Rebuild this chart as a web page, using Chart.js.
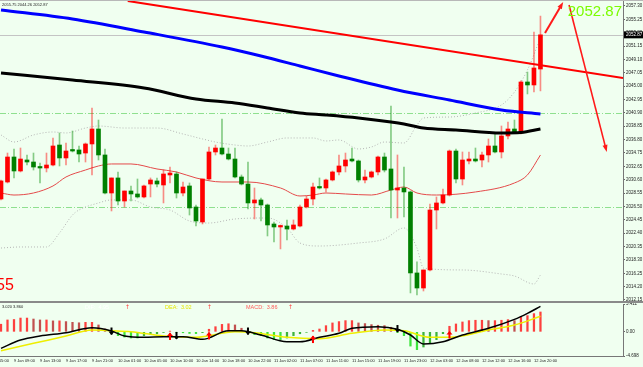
<!DOCTYPE html>
<html>
<head>
<meta charset="utf-8">
<title>XAUUSD H1</title>
<script src="https://cdn.jsdelivr.net/npm/chart.js@4.4.1/dist/chart.umd.min.js"></script>
<style>
  html, body { margin: 0; padding: 0; background: #f0fff0; overflow: hidden; }
  #wrap { position: relative; width: 643px; height: 367px; }
  canvas { position: absolute; left: 0; }
  #priceChart { top: 0; }
  #macdChart { top: 302px; }
  .rule { position: absolute; left: 0; width: 643px; }
</style>
</head>
<body>
<div id="wrap">
  <canvas id="priceChart" width="643" height="302"></canvas>
  <canvas id="macdChart" width="643" height="65"></canvas>
  <div class="rule" style="top:0;height:1px;background:#b8b8b8"></div>
  <div class="rule" style="top:301px;height:2px;background:#8a8a8a"></div>
</div>
<script>
var FONT = 'Liberation Sans, Arial, sans-serif';

// hourly bars, 9 Jan 07:00 .. 12 Jan 21:00
var barOpen = [2027.66,2030.27,2034.11,2031.96,2033.65,2033.34,2032.57,2032.42,2032.88,2035.95,
  2033.96,2035.19,2035.19,2034.72,2036.11,2038.41,2034.42,2028.58,2030.89,2027.35,
  2028.89,2028.43,2027.97,2029.96,2030.43,2029.81,2031.35,2031.50,2028.58,2029.66,
  2026.43,2024.13,2030.73,2034.88,2035.49,2034.57,2033.80,2031.04,2029.96,2027.05,
  2027.51,2026.74,2023.82,2023.36,2023.51,2023.05,2023.51,2026.43,2027.66,2029.50,
  2029.35,2030.58,2031.81,2032.73,2033.80,2033.50,2030.58,2031.04,2031.81,2034.11,
  2032.27,2029.04,2029.35,2028.74,2016.30,2013.99,2016.76,2025.97,2027.05,2028.27,
  2035.03,2030.73,2033.50,2033.80,2033.65,2034.42,2035.80,2034.88,2037.34,2038.41,
  2037.80,2045.63,2045.17,2047.62];
var barHigh = [2030.58,2034.72,2035.34,2035.49,2034.42,2034.72,2033.19,2034.72,2037.03,2037.80,
  2036.26,2038.10,2035.80,2036.26,2041.64,2039.79,2035.34,2030.89,2031.81,2028.89,
  2029.66,2030.73,2029.81,2030.89,2030.89,2032.11,2032.57,2031.81,2030.27,2030.12,
  2026.74,2030.73,2035.65,2035.95,2039.95,2035.49,2035.49,2031.35,2033.34,2029.35,
  2027.81,2026.89,2024.13,2023.67,2024.44,2024.44,2026.74,2028.12,2030.12,2030.89,
  2030.73,2031.96,2034.42,2034.72,2035.49,2033.65,2032.11,2031.96,2034.26,2034.72,
  2041.94,2034.42,2032.57,2028.90,2017.99,2016.76,2026.89,2027.97,2029.20,2035.19,
  2035.34,2034.88,2034.88,2035.49,2034.88,2036.88,2037.80,2038.87,2039.49,2039.79,
  2045.80,2047.16,2053.31,2055.75];
var barLow = [2027.51,2030.12,2030.89,2031.81,2032.88,2032.11,2030.12,2031.81,2032.73,2032.73,
  2032.88,2034.88,2033.34,2033.34,2031.35,2033.65,2028.43,2025.82,2026.74,2026.43,
  2027.35,2027.81,2027.81,2027.97,2029.50,2027.05,2030.12,2027.81,2028.12,2025.20,
  2023.51,2023.82,2030.58,2034.42,2034.42,2033.65,2030.89,2029.81,2026.12,2024.59,
  2024.28,2021.98,2021.06,2019.99,2021.37,2022.90,2023.36,2026.28,2026.74,2029.20,
  2028.74,2030.43,2031.35,2031.81,2033.34,2030.27,2030.12,2030.89,2031.35,2031.81,
  2024.74,2024.74,2024.90,2013.23,2012.92,2013.53,2016.61,2023.05,2026.89,2028.12,
  2030.12,2029.81,2033.04,2033.34,2032.57,2033.34,2034.72,2033.96,2036.88,2037.80,
  2037.65,2043.79,2044.09,2044.26];
var barClose = [2030.43,2034.11,2031.96,2033.80,2033.34,2032.57,2032.42,2032.88,2035.80,2033.96,
  2035.03,2035.03,2034.57,2036.11,2038.41,2034.42,2028.58,2030.89,2027.35,2028.89,
  2028.43,2027.97,2029.66,2030.58,2029.96,2031.50,2031.65,2028.58,2029.50,2026.28,
  2024.28,2030.73,2034.88,2035.49,2034.57,2033.80,2031.04,2029.96,2027.05,2027.51,
  2026.74,2023.67,2023.36,2023.51,2023.05,2023.67,2026.43,2027.66,2029.50,2029.35,
  2030.58,2031.81,2032.73,2033.65,2033.50,2030.58,2031.04,2031.81,2034.11,2032.11,
  2029.04,2029.35,2028.74,2016.30,2013.99,2016.76,2025.97,2027.05,2028.27,2035.03,
  2030.73,2033.65,2033.80,2033.50,2034.42,2035.80,2034.88,2037.34,2038.41,2037.95,
  2045.63,2045.17,2047.78,2052.87];

// time axis: bar index of each label
var xTickBars = [-2,2,6,10,14,18,22,26,30,34,38,42,46,50,54,58,62,66,70,74,78,82];
var xTickLabels = ['9 Jan 05:00','9 Jan 09:00','9 Jan 13:00','9 Jan 17:00','9 Jan 21:00',
  '10 Jan 01:00','10 Jan 05:00','10 Jan 10:00','10 Jan 14:00','10 Jan 18:00','10 Jan 22:00',
  '11 Jan 02:00','11 Jan 07:00','11 Jan 11:00','11 Jan 15:00','11 Jan 19:00','11 Jan 23:00',
  '12 Jan 03:00','12 Jan 08:00','12 Jan 12:00','12 Jan 16:00','12 Jan 20:00'];
var priceTicks = [2057.30,2055.25,2053.20,2051.15,2049.10,2047.05,2045.00,2042.95,2040.90,2038.85,
  2036.80,2034.75,2032.65,2030.60,2028.55,2026.50,2024.45,2022.40,2020.35,2018.30,2016.25,2014.20,2012.15];
var macdTicks = [5.411, 0, -4.698];

// moving averages (read at some bars)
var blueMaBars = [0,11,22,34,40,46,52,61,69,77,83];
var blueMaVals = [2056.69,2055.30,2053.31,2051.00,2049.62,2048.09,2046.55,2044.40,2042.86,2041.33,2040.71];
var blackMaBars = [0,11,22,30,36,41,46,50,55,60,62,65,70,77,80,83];
var blackMaVals = [2047.01,2045.93,2044.71,2043.02,2042.40,2041.64,2040.87,2040.56,2040.10,2039.49,2039.18,2038.56,2038.26,2037.80,2037.87,2038.41];

// bollinger bands
var bbUpBars = [0,2,5,8,10,13,15,19,24,28,31,33,36,38,41,44,48,50,52,55,57,59,62,64,65,69,73,77,79,81,83];
var bbUpVals = [2037.49,2036.41,2037.49,2037.95,2037.80,2038.56,2038.87,2038.56,2038.56,2037.64,2036.88,2036.41,2035.95,2035.80,2036.41,2037.03,2037.03,2036.57,2036.72,2035.34,2035.65,2036.41,2036.26,2039.02,2040.10,2040.25,2040.87,2042.10,2044.09,2047.47,2052.39];
var bbMidBars = [0,2,5,8,10,13,15,17,20,24,27,30,34,38,43,46,48,50,53,57,60,62,64,67,73,79,81,83];
var bbMidVals = [2028.58,2028.27,2028.58,2029.66,2031.04,2032.11,2032.73,2033.04,2033.04,2032.27,2031.81,2030.89,2030.27,2030.27,2029.35,2028.12,2028.27,2028.58,2028.43,2028.27,2029.04,2029.50,2028.58,2028.27,2028.74,2030.12,2031.35,2034.42];
var bbLowBars = [0,3,7,9,11,12,15,17,20,23,26,29,32,36,41,44,46,49,55,59,62,64,65,71,77,79,82,83];
var bbLowVals = [2020.13,2020.29,2020.29,2022.44,2025.20,2025.97,2027.05,2027.51,2027.51,2026.43,2025.97,2024.28,2023.97,2024.59,2024.74,2023.21,2020.90,2020.44,2020.90,2021.52,2023.21,2020.13,2017.06,2016.76,2016.14,2015.83,2014.61,2015.99];

// drawn objects: [bar, price]
var levelLines = [2040.90, 2026.50];
var lastPrice = 2052.87;
var trendLine = [[19.5, 2058.07], [95.7, 2046.24]];
var arrowUpLeg = [[83.7, 2053.15], [86.5, 2057.91]];
var arrowDownLeg = [[87.4, 2057.45], [93.2, 2034.88]];

// MACD sub window
var macdHist = [1.48,2.31,2.40,2.68,2.68,2.49,2.31,2.31,2.13,2.13,
  1.99,1.85,1.76,1.85,1.85,1.34,0.55,-0.15,-0.74,-1.02,
  -1.2,-1.2,-0.74,-0.51,-0.37,-0.12,0.14,-0.09,-0.18,-0.32,
  -0.35,-0.15,0.5,1.0,1.45,1.57,1.34,0.7,-0.1,-0.55,
  -0.74,-1.2,-1.52,-1.52,-1.2,-0.74,-0.37,-0.09,0.28,0.55,
  1.2,1.73,1.99,2.18,2.18,1.73,1.6,1.4,1.28,1.21,
  0.89,-0.15,-0.75,-2.77,-3.47,-2.95,-2.17,-1.52,-0.36,1.08,
  1.53,1.92,2.18,2.25,2.25,2.18,2.18,2.25,2.37,2.18,
  2.89,3.15,3.54,3.86];
var difBars = [0,3,6,10,14,17,19,22,25,28,31,35,37,40,44,46,49,52,54,58,61,63,65,68,71,75,79,81,83];
var difVals = [-3.21,-1.60,-0.82,-0.18,0.80,0.16,-0.82,-1.07,-0.95,-0.95,-1.46,0.21,0.21,-0.62,-1.93,-1.93,-1.07,-0.29,0.68,0.99,0.49,-0.62,-2.37,-1.93,-0.62,0.68,2.43,3.60,4.95];
var deaBars = [0,5,10,14,17,20,25,30,36,39,44,49,54,59,62,66,69,75,79,83];
var deaVals = [-3.68,-2.24,-0.82,0.35,0.21,0.02,-0.82,-1.07,0.02,-0.18,-1.07,-1.34,-0.29,0.35,0.21,-1.07,-1.07,0.35,1.32,3.02];
var crossDown = [[17, 0.16], [27, -0.7], [38, 0.16], [61, 0.64]];
var crossUp = [[26, -0.9], [32, -0.8], [48, -1.5], [69, -0.62]];

var xMin = -0.154, xMax = 95.7;

function pts(xs, ys) {
  return xs.map(function (x, k) { return {x: x, y: ys[k]}; });
}

function lineSet(data, color, width, order, dash) {
  return {
    type: 'line', data: data, borderColor: color, borderWidth: width,
    borderDash: dash || [], pointRadius: 0, cubicInterpolationMode: 'monotone',
    fill: false, order: order
  };
}

var bodies = [], wicks = [], bodyColors = [], wickColors = [];
for (var i = 0; i < barOpen.length; i++) {
  var up = barClose[i] >= barOpen[i];
  bodies.push({x: i, y: [barOpen[i], barClose[i]]});
  wicks.push({x: i, y: [barLow[i], barHigh[i]]});
  bodyColors.push(up ? '#ff0000' : '#008000');
  wickColors.push(up ? 'rgba(255,0,0,0.45)' : 'rgba(0,140,0,0.45)');
}

var histData = [], histColors = [];
for (var j = 0; j < macdHist.length; j++) {
  var v = macdHist[j], prev = j > 0 ? macdHist[j - 1] : v;
  histData.push({x: j, y: v});
  if (v >= 0) histColors.push(v >= prev ? 'rgba(255,30,30,0.85)' : 'rgba(185,50,50,0.85)');
  else histColors.push(v <= prev ? 'rgba(40,225,40,0.9)' : 'rgba(40,170,40,0.9)');
}

function fixedAxis(s) {
  s.width = 20;
  s.paddingTop = 0;
  s.paddingBottom = 0;
}

function arrowLeg(chart, leg, width) {
  var ctx = chart.ctx, xs = chart.scales.x, ys = chart.scales.y;
  var x1 = xs.getPixelForValue(leg[0][0]), y1 = ys.getPixelForValue(leg[0][1]);
  var x2 = xs.getPixelForValue(leg[1][0]), y2 = ys.getPixelForValue(leg[1][1]);
  var a = Math.atan2(y2 - y1, x2 - x1), c = Math.cos(a), s = Math.sin(a);
  ctx.strokeStyle = '#ff1a1a';
  ctx.fillStyle = '#ff1a1a';
  ctx.lineWidth = width;
  ctx.beginPath();
  ctx.moveTo(x1, y1);
  ctx.lineTo(x2 - 4 * c, y2 - 4 * s);
  ctx.stroke();
  ctx.beginPath();
  ctx.moveTo(x2, y2);
  ctx.lineTo(x2 - 7 * c + 2.5 * s, y2 - 7 * s - 2.5 * c);
  ctx.lineTo(x2 - 7 * c - 2.5 * s, y2 - 7 * s + 2.5 * c);
  ctx.closePath();
  ctx.fill();
}

var priceDecor = {
  id: 'priceDecor',
  beforeDatasetsDraw: function (chart) {
    var ctx = chart.ctx, a = chart.chartArea, ys = chart.scales.y;
    ctx.save();
    ctx.lineWidth = 1;
    ctx.strokeStyle = '#8fe08f';
    ctx.setLineDash([6, 2, 1, 2]);
    levelLines.forEach(function (lv) {
      var py = Math.round(ys.getPixelForValue(lv)) + 0.5;
      ctx.beginPath(); ctx.moveTo(a.left, py); ctx.lineTo(a.right, py); ctx.stroke();
    });
    ctx.setLineDash([]);
    ctx.strokeStyle = '#c4c4c4';
    var pp = Math.round(ys.getPixelForValue(lastPrice)) + 0.5;
    ctx.beginPath(); ctx.moveTo(a.left, pp); ctx.lineTo(a.right, pp); ctx.stroke();
    ctx.restore();
  },
  afterDatasetsDraw: function (chart) {
    chart.ctx.save();
    arrowLeg(chart, arrowUpLeg, 2);
    arrowLeg(chart, arrowDownLeg, 1.6);
    chart.ctx.restore();
  },
  afterDraw: function (chart) {
    var ctx = chart.ctx, a = chart.chartArea, ys = chart.scales.y, n = barClose.length - 1;
    ctx.save();
    ctx.textAlign = 'left';
    ctx.textBaseline = 'middle';
    ctx.fillStyle = '#222';
    ctx.font = '4px ' + FONT;
    ctx.fillText(barHigh[n].toFixed(2) + ' ' + barLow[n].toFixed(2) + ' ' + barClose[n].toFixed(2), 2, 5);

    ctx.font = '15px ' + FONT;
    ctx.fillStyle = '#7cfc00';
    ctx.textAlign = 'right';
    ctx.fillText(lastPrice.toFixed(2), 622, 12);

    ctx.font = '16px ' + FONT;
    ctx.fillStyle = '#ff0000';
    ctx.textAlign = 'left';
    ctx.textBaseline = 'alphabetic';
    ctx.fillText('55', -4, 290);

    var py = ys.getPixelForValue(lastPrice);
    ctx.fillStyle = '#000';
    ctx.fillRect(a.right + 1, py - 3.5, 20, 7);
    ctx.fillStyle = '#fff';
    ctx.font = '4.5px ' + FONT;
    ctx.textBaseline = 'middle';
    ctx.fillText(lastPrice.toFixed(2), a.right + 3, py);
    ctx.restore();
  }
};

function drawCross(ctx, x, y, dir, color) {
  // dir 1 = up, -1 = down
  ctx.fillStyle = color;
  ctx.fillRect(x - 1, y - 3.5, 2, 7);
  var tip = y - dir * 4, base = y - dir * 0.5;
  ctx.beginPath();
  ctx.moveTo(x, tip);
  ctx.lineTo(x - 3, base);
  ctx.lineTo(x + 3, base);
  ctx.closePath();
  ctx.fill();
}

var macdDecor = {
  id: 'macdDecor',
  afterDatasetsDraw: function (chart) {
    var ctx = chart.ctx, xs = chart.scales.x, ys = chart.scales.y;
    ctx.save();
    crossDown.forEach(function (p) {
      drawCross(ctx, xs.getPixelForValue(p[0]), ys.getPixelForValue(p[1]), -1, '#000');
    });
    crossUp.forEach(function (p) {
      drawCross(ctx, xs.getPixelForValue(p[0]), ys.getPixelForValue(p[1]), 1, '#ff0000');
    });
    ctx.restore();
  },
  afterDraw: function (chart) {
    var ctx = chart.ctx, n = macdHist.length - 1;
    var dea = deaVals[deaVals.length - 1];
    ctx.save();
    ctx.textAlign = 'left';
    ctx.textBaseline = 'middle';
    ctx.font = '4px ' + FONT;
    ctx.fillStyle = '#222';
    ctx.fillText(dea.toFixed(3) + ' ' + macdHist[n].toFixed(3), 2, 4.5);
    ctx.font = '5.5px ' + FONT;
    ctx.fillStyle = '#ffffff';
    ctx.fillText('DIF:  ' + difVals[difVals.length - 1].toFixed(2), 85, 5);
    ctx.fillStyle = '#e6e600';
    ctx.fillText('DEA:  ' + dea.toFixed(2), 165, 5);
    ctx.fillStyle = '#ff5a5a';
    ctx.fillText('MACD:  ' + macdHist[n].toFixed(2), 246, 5);
    ctx.font = '6px DejaVu Sans';
    ctx.fillStyle = '#ff4040';
    [125, 207, 288].forEach(function (x) { ctx.fillText('\u2191', x, 5); });
    ctx.restore();
  }
};

var xHidden = {type: 'linear', min: xMin, max: xMax, offset: false, display: false};

new Chart(document.getElementById('priceChart'), {
  type: 'bar',
  data: {
    datasets: [
      lineSet(pts(bbUpBars, bbUpVals), '#b4b4b4', 1, 10, [1, 2]),
      lineSet(pts(bbLowBars, bbLowVals), '#b4b4b4', 1, 10, [1, 2]),
      lineSet(pts(bbMidBars, bbMidVals), '#e44a4a', 1, 9),
      {data: wicks, backgroundColor: wickColors, barThickness: 1, grouped: false, order: 8},
      {data: bodies, backgroundColor: bodyColors, barThickness: 4, minBarLength: 1.5, grouped: false, order: 7},
      lineSet(pts(blackMaBars, blackMaVals), '#000000', 3, 3),
      lineSet(pts(blueMaBars, blueMaVals), '#0000ff', 3, 2),
      {type: 'line', data: pts([trendLine[0][0], trendLine[1][0]], [trendLine[0][1], trendLine[1][1]]),
        borderColor: '#ff0000', borderWidth: 2, pointRadius: 0, order: 1}
    ]
  },
  options: {
    responsive: false,
    devicePixelRatio: 1,
    animation: false,
    layout: {padding: 0},
    plugins: {legend: {display: false}, tooltip: {enabled: false}},
    scales: {
      x: xHidden,
      y: {
        position: 'right', min: 2011.84, max: 2058.22,
        afterBuildTicks: function (s) { s.ticks = priceTicks.map(function (p) { return {value: p}; }); },
        afterFit: fixedAxis,
        ticks: {
          autoSkip: false, padding: 1, color: '#222',
          font: {size: 4.5, family: FONT},
          callback: function (p) { return p.toFixed(2); }
        },
        grid: {drawOnChartArea: false, tickLength: 2, color: '#666'},
        border: {display: true, color: '#777'}
      }
    }
  },
  plugins: [priceDecor]
});

new Chart(document.getElementById('macdChart'), {
  type: 'bar',
  data: {
    datasets: [
      {data: histData, backgroundColor: histColors, barThickness: 1.6, grouped: false, order: 3},
      lineSet(pts(deaBars, deaVals), '#eeee00', 1.5, 2),
      lineSet(pts(difBars, difVals), '#000000', 1.5, 1)
    ]
  },
  options: {
    responsive: false,
    devicePixelRatio: 1,
    animation: false,
    layout: {padding: {top: 2, left: 0, right: 0, bottom: 0}},
    plugins: {legend: {display: false}, tooltip: {enabled: false}},
    scales: {
      x: {
        type: 'linear', min: xMin, max: xMax, offset: false,
        afterBuildTicks: function (s) { s.ticks = xTickBars.map(function (b) { return {value: b}; }); },
        afterFit: function (s) { s.height = 11; s.paddingLeft = 0; s.paddingRight = 0; },
        ticks: {
          align: 'start', maxRotation: 0, autoSkip: false, padding: 2, color: '#222',
          font: {size: 4, family: FONT},
          callback: function (b) { var k = xTickBars.indexOf(b); return k < 0 ? '' : xTickLabels[k]; }
        },
        grid: {display: false, drawTicks: false},
        border: {display: true, color: '#777'}
      },
      y: {
        position: 'right', min: -4.698, max: 5.411,
        afterBuildTicks: function (s) { s.ticks = macdTicks.map(function (m) { return {value: m}; }); },
        afterFit: fixedAxis,
        ticks: {
          autoSkip: false, padding: 1, color: '#222',
          font: {size: 4.5, family: FONT},
          callback: function (m) { return m === 0 ? '0.00' : m.toFixed(3); }
        },
        grid: {drawOnChartArea: false, tickLength: 2, color: '#666'},
        border: {display: true, color: '#777'}
      }
    }
  },
  plugins: [macdDecor]
});
</script>
</body>
</html>
